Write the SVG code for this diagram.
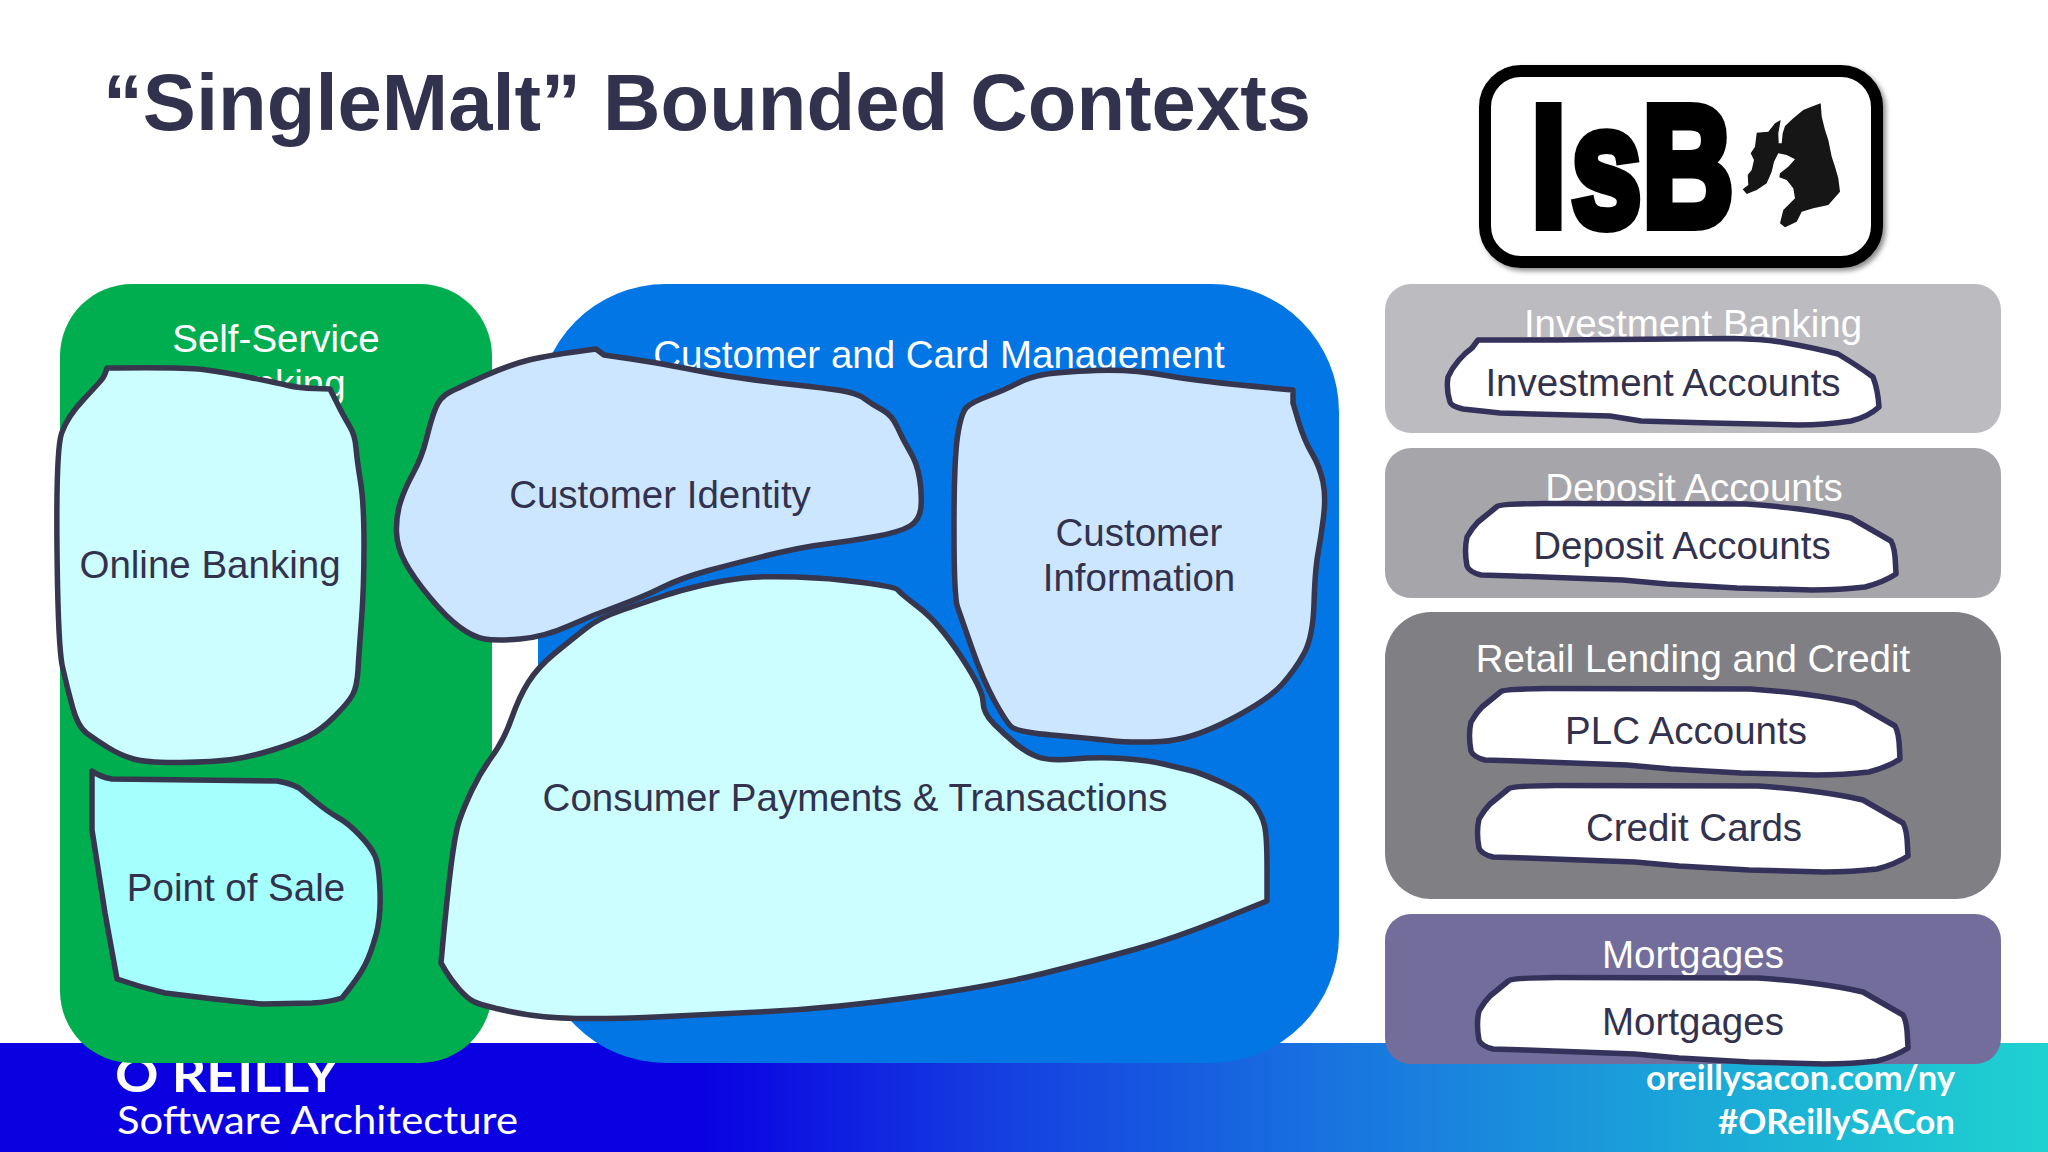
<svg xmlns="http://www.w3.org/2000/svg" width="2048" height="1152" viewBox="0 0 2048 1152">
<style>
text{font-family:"Liberation Sans",Arial,sans-serif}
.t{font-size:38.5px;text-anchor:middle;fill:#fff}
.n{font-size:38.5px;text-anchor:middle;fill:#33324e}
.b{stroke:#36364f;stroke-width:5.5;stroke-linejoin:round;stroke-linecap:round}
.p{fill:#fff;stroke:#34315a;stroke-width:5.5;stroke-linejoin:round}
.f{font-family:Lato,"Open Sans",sans-serif;fill:#fff}
</style>
<defs>
<linearGradient id="foot" x1="0" y1="0" x2="1" y2="0">
<stop offset="0" stop-color="#0b00e0"/>
<stop offset="0.34" stop-color="#0a00e2"/>
<stop offset="0.49" stop-color="#1540e0"/>
<stop offset="0.64" stop-color="#1870e0"/>
<stop offset="0.83" stop-color="#1ba8d8"/>
<stop offset="1" stop-color="#1fd2d0"/>
</linearGradient>
<filter id="sh" x="-10%" y="-10%" width="125%" height="125%"><feDropShadow dx="3" dy="3" stdDeviation="2.5" flood-color="#000" flood-opacity="0.45"/></filter>
<path id="pill" d="M1497 506.500Q1500 504 1544 503.500L1746 504Q1775 506 1799 509Q1830 513 1851 518Q1872 530 1891 541Q1895 548 1895.500 564.500L1896 574Q1884 582 1865 587Q1840 590 1812 590L1737 588L1667 584L1623 580L1514 576L1481 575Q1469 572 1467 566Q1464 550 1467 537Q1472 528 1478 522Z"/>
</defs>
<rect width="2048" height="1152" fill="#fff"/>
<g id="footer">
<rect x="0" y="1043" width="2048" height="109" fill="url(#foot)"/>
<text class="f" x="115" y="1092" font-size="48" font-weight="700" textLength="224" lengthAdjust="spacingAndGlyphs">O REILLY</text>
<text class="f" x="117" y="1134" font-size="39" textLength="401" lengthAdjust="spacingAndGlyphs">Software Architecture</text>
<text class="f" x="1646" y="1090" font-size="34" font-weight="700" textLength="309" lengthAdjust="spacingAndGlyphs">oreillysacon.com/ny</text>
<text class="f" x="1718" y="1134" font-size="34" font-weight="700" textLength="237" lengthAdjust="spacingAndGlyphs">#OReillySACon</text>
</g>
<text id="title" x="103" y="130" font-size="80" font-weight="700" fill="#33324e" textLength="1208" lengthAdjust="spacingAndGlyphs">“SingleMalt” Bounded Contexts</text>
<g id="logo" filter="url(#sh)">
<rect x="1485" y="71" width="392" height="191" rx="36" fill="#fff" stroke="#000" stroke-width="12"/>
<text transform="translate(1531,225.500) scale(.74,1)" x="0 54 150" y="0" font-size="172" font-weight="700" fill="#000" stroke="#000" stroke-width="10">IsB</text>
<polygon fill="#141414" points="1820.7,103.3 1813.3,106 1803.3,110 1793.3,118.3 1785,126 1782.7,133.3 1781.7,143.3 1778.7,143.3 1778.3,133.3 1780.7,120 1775,123.3 1768.3,131.7 1756.7,132.7 1755,146.7 1750.7,153.3 1754,160 1751.7,170 1747.7,175 1748.3,185 1742.7,189.3 1746.7,194 1756.7,190 1766.7,183.3 1771.7,171.7 1774,161.7 1778.3,153.3 1786.7,155 1795,159.3 1788.3,166.7 1780,173.3 1779.3,177.3 1786.7,180 1793.3,188.3 1795,198.3 1788.3,205 1783.3,210 1780,223.3 1785,227.3 1796.7,221.7 1801.7,211.7 1813.3,208.3 1828.3,205 1840,191.7 1838.3,178.3 1835,166.7 1831.7,156.7 1828.3,140 1825,130 1821.7,116.7"/>
</g>
<g id="self-service">
<rect x="60" y="284" width="432" height="779" rx="72" fill="#00ae50"/>
<text class="t" x="276" y="352">Self-Service</text>
<text class="t" x="276" y="397">Banking</text>
</g>
<g id="customer-card">
<rect x="538" y="284" width="801" height="779" rx="128" fill="#0276e4"/>
<text class="t" x="939" y="368">Customer and Card Management</text>
</g>
<g id="consumer-payments">
<path class="b" fill="#ccfeff" d="M744 578Q725 580 703 585Q681 590 662 596.500Q643 603 621 610.500Q599 618 585 629Q571 640 554.500 653.500Q538 667 528.500 682Q519 697 511.500 718.500Q504 740 492 756.500Q480 773 472 790Q464 807 459.500 820Q455 833 450.500 870Q446 907 441 963L446 971.500Q451 980 459 989Q467 998 473.500 1001.500Q480 1005 510 1011.500Q540 1018 576 1018.500Q612 1019 656 1017Q700 1015 768 1011.500Q836 1008 914.500 997Q993 986 1045 973Q1097 960 1136 949Q1175 938 1221 919.500L1267 901L1267 868.500Q1267 836 1264.500 825.500Q1262 815 1254.500 804.500Q1247 794 1224 783.500Q1201 773 1190.500 770.500Q1180 768 1163.500 764Q1147 760 1122.500 758.500Q1098 757 1073.500 759Q1049 761 1038 757Q1027 753 1016 744Q1005 735 994 724Q983 713 983 701.500Q983 690 961 656.500Q939 623 919.500 608Q900 593 898 590Q896 587 862.500 582.500Q829 578 796 577Q763 576 744 578Z"/>
<text class="n" x="855" y="811">Consumer Payments &amp; Transactions</text>
</g>
<g id="customer-identity">
<path class="b" fill="#cce6ff" d="M596 349L604 355L631.500 359Q659 363 689 369Q719 375 744 378.500Q769 382 796.500 385Q824 388 840.500 390.500Q857 393 865 399Q873 405 882.500 410Q892 415 897.500 427.500Q903 440 910 451.500Q917 463 919.500 478Q922 493 921 506.500Q920 520 910 526Q900 532 875.500 536.500Q851 541 826.500 544Q802 547 769 555Q736 563 708.500 570.500Q681 578 662 587.500Q643 597 618 606Q593 615 568.500 626Q544 637 520 639Q496 641 484.500 639Q473 637 459.500 627Q446 617 429.500 597Q413 577 405 562Q397 547 396.500 532Q396 517 400 503.500Q404 490 413 473.500Q422 457 426.500 438.500Q431 420 435.500 408.500Q440 397 450 392Q460 387 484.500 376Q509 365 529 360Q549 355 596 349Z"/>
<text class="n" x="660" y="508">Customer Identity</text>
</g>
<g id="customer-information">
<path class="b" fill="#cce6ff" d="M1095.500 370.500Q1131 369 1166.500 375.500Q1202 382 1293 390L1293 403L1298.500 421.500Q1304 440 1312 453.500Q1320 467 1323 482Q1326 497 1323.500 517Q1321 537 1318 553.500Q1315 570 1314 603.500Q1313 637 1304 653.500Q1295 670 1281.500 685Q1268 700 1229.500 720Q1191 740 1161 741.500Q1131 743 1109 740.500Q1087 738 1051.500 735Q1016 732 1010.500 726Q1005 720 994 700Q983 680 972 648.500Q961 617 957.500 607Q954 597 954 528.500Q954 460 957.500 436.500Q961 413 966.500 407.500Q972 402 988.500 396Q1005 390 1017 383.500Q1029 377 1044.500 374.500Q1060 372 1095.500 370.500Z"/>
<text class="n" x="1139" y="546">Customer</text>
<text class="n" x="1139" y="591">Information</text>
</g>
<g id="online-banking">
<path class="b" fill="#ccfeff" d="M107 368Q183 367 203 369.500Q223 372 250 377.500Q277 383 288 385.500Q299 388 315 388.500L330 389L337 403Q344 417 349.500 426Q355 435 356 447.500Q357 460 360.500 481.500Q364 503 364 545Q364 587 361.500 620Q359 653 358 670Q357 687 352.500 695Q348 703 334.500 716.500Q321 730 308 736.500Q295 743 272.500 750Q250 757 232 759.500Q214 762 180.500 762.500Q147 763 133.500 759Q120 755 108 747.500Q96 740 87 733.500Q78 727 72.500 707Q67 687 62.500 667Q58 647 57 548.500Q56 450 61.500 433.500Q67 417 83.500 399.500Q100 382 102.500 378.500Q105 375 107 368Z"/>
<text class="n" x="210" y="578">Online Banking</text>
</g>
<g id="point-of-sale">
<path class="b" fill="#a5fffc" d="M92 771Q100 777 112 779L277 781Q290 783 299 788L313.500 800Q328 812 338 817.500Q348 823 359.500 835Q371 847 375 856Q379 865 380 891Q381 917 376 935Q371 953 365 965Q359 977 342 998Q330 1002 312 1003L263 1004Q240 1002 214 999Q190 996 165 993Q140 987 117 979L105 913L92 830Z"/>
<text class="n" x="236" y="901">Point of Sale</text>
</g>
<g id="investment-banking">
<rect x="1385" y="284" width="616" height="149" rx="26" fill="#bcbbbf"/>
<text class="t" x="1693" y="337">Investment Banking</text>
</g>
<g id="investment-accounts">
<path class="p" d="M1478 340L1557 340L1733 338.500Q1760 339 1781 342Q1815 348 1838 354Q1858 366 1873 377Q1878 390 1879 407Q1868 417 1851 421Q1825 425 1799 425L1711 423L1641 421L1610 416L1500 413L1463 409Q1451 406 1450 402Q1446 390 1448 377Q1452 368 1459 360Q1465 353 1472 348Z"/>
<text class="n" x="1663" y="396">Investment Accounts</text>
</g>
<g id="deposit-group">
<rect x="1385" y="448" width="616" height="150" rx="26" fill="#a6a5a9"/>
<text class="t" x="1694" y="501">Deposit Accounts</text>
</g>
<g id="deposit-accounts">
<use href="#pill" class="p"/>
<text class="n" x="1682" y="559">Deposit Accounts</text>
</g>
<g id="retail-lending">
<rect x="1385" y="612" width="616" height="287" rx="46" fill="#807f83"/>
<text class="t" x="1693" y="672">Retail Lending and Credit</text>
</g>
<g id="plc-accounts">
<use href="#pill" class="p" x="4" y="185"/>
<text class="n" x="1686" y="744">PLC Accounts</text>
</g>
<g id="credit-cards">
<use href="#pill" class="p" x="12" y="282"/>
<text class="n" x="1694" y="841">Credit Cards</text>
</g>
<g id="mortgages-group">
<rect x="1385" y="914" width="616" height="150" rx="26" fill="#726d9b"/>
<text class="t" x="1693" y="968">Mortgages</text>
</g>
<g id="mortgages">
<use href="#pill" class="p" x="12" y="474"/>
<text class="n" x="1693" y="1035">Mortgages</text>
</g>
</svg>
